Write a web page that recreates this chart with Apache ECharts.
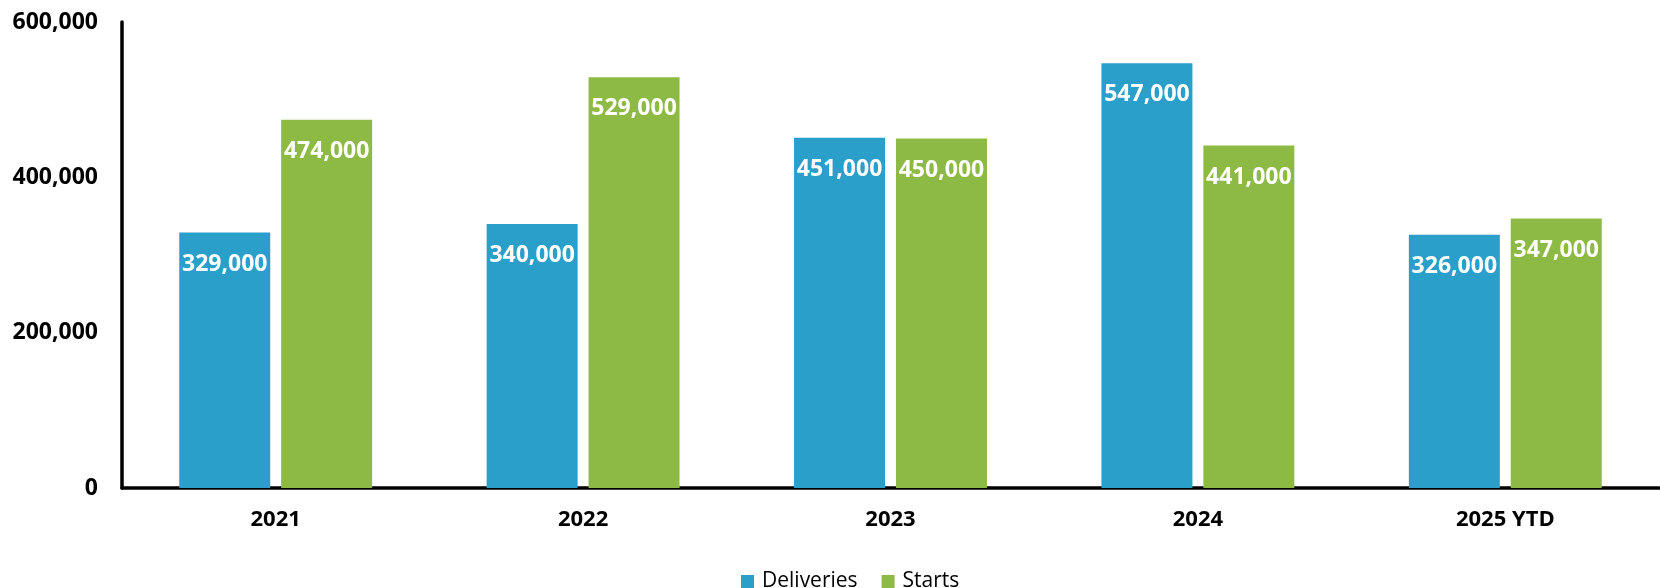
<!DOCTYPE html>
<html>
<head>
<meta charset="utf-8">
<script src="https://cdn.jsdelivr.net/npm/echarts@6/dist/echarts.min.js"></script>
<style>
  html, body { margin: 0; padding: 0; background: #fff; }
  #chart { width: 1660px; height: 588px; }
</style>
</head>
<body>
<div id="chart"></div>
<script>
var categories = ['2021', '2022', '2023', '2024', '2025 YTD'];
var deliveries = [329000, 340000, 451000, 547000, 326000];
var starts = [474000, 529000, 450000, 441000, 347000];
var yTicks = [0, 200000, 400000, 600000];

function fmt(v) {
  return String(v).replace(/\B(?=(\d{3})+(?!\d))/g, ',');
}

var chart = echarts.init(document.getElementById('chart'));
var font = '"Open Sans", "Noto Sans", sans-serif';

var barLabel = {
  show: true,
  position: 'insideTop',
  distance: 20,
  color: '#fff',
  fontFamily: font,
  fontWeight: 'bold',
  fontSize: 23,
  formatter: function(p) { return fmt(p.value); }
};

chart.setOption({
  animation: false,
  textStyle: { fontFamily: font },
  grid: {
    left: 122,
    right: 1,
    top: 22,
    bottom: 100
  },
  legend: {
    left: 736,
    top: 566,
    itemWidth: 13,
    itemHeight: 13,
    itemGap: 24,
    icon: 'rect',
    textStyle: {
      color: '#000',
      fontSize: 21,
      fontFamily: font,
      padding: [0, 0, 0, 3]
    },
    data: ['Deliveries', 'Starts']
  },
  xAxis: {
    type: 'category',
    data: categories,
    axisTick: { show: false },
    axisLine: { lineStyle: { color: '#000', width: 3.5 } },
    axisLabel: {
      color: '#000',
      fontSize: 22,
      fontWeight: 'bold',
      fontFamily: font,
      margin: 21
    }
  },
  yAxis: {
    type: 'value',
    min: yTicks[0],
    max: yTicks[yTicks.length - 1],
    interval: 200000,
    splitLine: { show: false },
    axisTick: { show: false },
    axisLine: { show: true, lineStyle: { color: '#000', width: 3.5 } },
    axisLabel: {
      color: '#000',
      fontSize: 23,
      fontWeight: 'bold',
      fontFamily: font,
      margin: 24,
      formatter: function(v) { return fmt(v); }
    }
  },
  series: [{
    name: 'Deliveries',
    type: 'bar',
    barWidth: '29.6%',
    barGap: '12%',
    itemStyle: { color: '#299FCA' },
    label: barLabel,
    data: deliveries
  }, {
    name: 'Starts',
    type: 'bar',
    barWidth: '29.6%',
    barGap: '12%',
    itemStyle: { color: '#8DBA44' },
    label: barLabel,
    data: starts
  }]
});
</script>
</body>
</html>
